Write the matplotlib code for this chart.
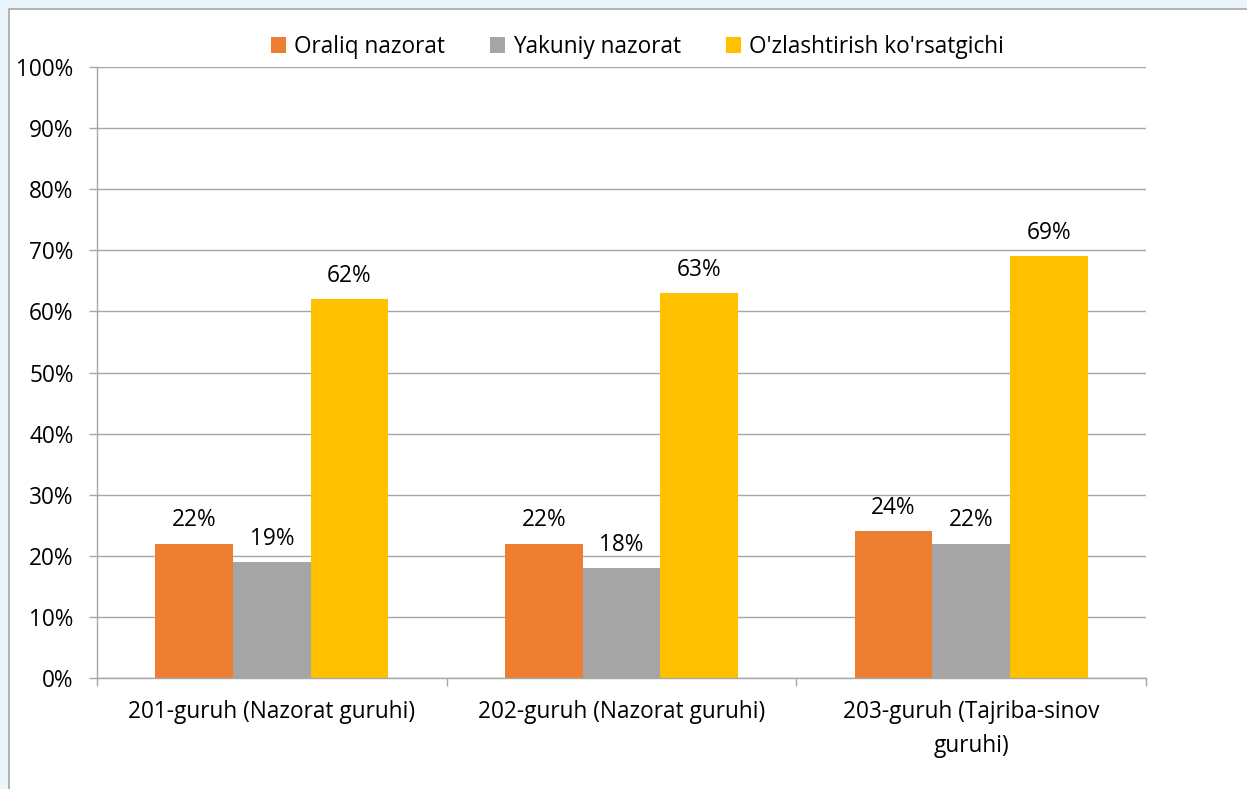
import matplotlib.pyplot as plt
from matplotlib.patches import Rectangle
from matplotlib.ticker import FixedLocator, NullFormatter, PercentFormatter

categories = ["201-guruh (Nazorat guruhi)", "202-guruh (Nazorat guruhi)", "203-guruh (Tajriba-sinov\nguruhi)"]
series_names = ["Oraliq nazorat", "Yakuniy nazorat", "O'zlashtirish ko'rsatgichi"]
oraliq = [22, 22, 24]
yakuniy = [19, 18, 22]
ozlashtirish = [62, 63, 69]
colors = ["#ED7D31", "#A5A5A5", "#FFC000"]

plt.rcParams['font.family'] = ['Open Sans', 'DejaVu Sans']
FS = 16.3

fig = plt.figure(figsize=(12.47, 7.89), dpi=100)
fig.patch.set_facecolor("#EAF5FC")
fig.patches.append(Rectangle((9/1247, -0.05), 1.1, 1 - 9/789 + 0.05, transform=fig.transFigure,
                             facecolor="white", edgecolor="#A6A6A6", linewidth=1.2, zorder=-5))

ax = fig.add_axes([97/1247, 1 - 678/789, (1146 - 97)/1247, (678 - 67)/789])
ax.set_zorder(2)
ax.set_facecolor("none")

w = 1 / 4.5
xs = range(len(categories))
for i, (vals, name, c) in enumerate(zip([oraliq, yakuniy, ozlashtirish], series_names, colors)):
    pos = [x + (i - 1) * w for x in xs]
    bars = ax.bar(pos, vals, width=w, color=c, label=name, zorder=3)
    for b, v in zip(bars, vals):
        ax.annotate(f"{v}%", (b.get_x() + b.get_width() / 2, v), xytext=(0, 8),
                    textcoords="offset points", ha="center", va="bottom", fontsize=FS, color="#000000")

ax.set_xlim(-0.5, 2.5)
ax.set_ylim(0, 100)
ax.yaxis.set_major_locator(FixedLocator(range(0, 101, 10)))
ax.yaxis.set_major_formatter(PercentFormatter(decimals=0))
ax.grid(axis="y", color="#A6A6A6", linewidth=1, zorder=0)

ax.xaxis.set_major_locator(FixedLocator([-0.5, 0.5, 1.5, 2.5]))
ax.xaxis.set_major_formatter(NullFormatter())
ax.xaxis.set_minor_locator(FixedLocator(list(xs)))
ax.set_xticklabels(categories, minor=True, fontsize=FS, linespacing=1.55)
ax.tick_params(axis="x", which="minor", length=0, pad=16)
ax.tick_params(axis="x", which="major", length=5.8, color="#A6A6A6", width=1)
ax.tick_params(axis="y", length=5.8, color="#A6A6A6", width=1, labelsize=FS, pad=11)

for s in ["top", "right"]:
    ax.spines[s].set_visible(False)
for s in ["left", "bottom"]:
    ax.spines[s].set_color("#A6A6A6")
    ax.spines[s].set_linewidth(1)
    ax.spines[s].set_zorder(4)

ax.legend(loc="center", bbox_to_anchor=(0.515, 1 + 20/611), ncol=3, frameon=False, fontsize=FS,
          handlelength=0.65, handleheight=0.65, handletextpad=0.35, columnspacing=2.0,
          borderpad=0, borderaxespad=0)

fig.savefig("out.png", dpi=100)
